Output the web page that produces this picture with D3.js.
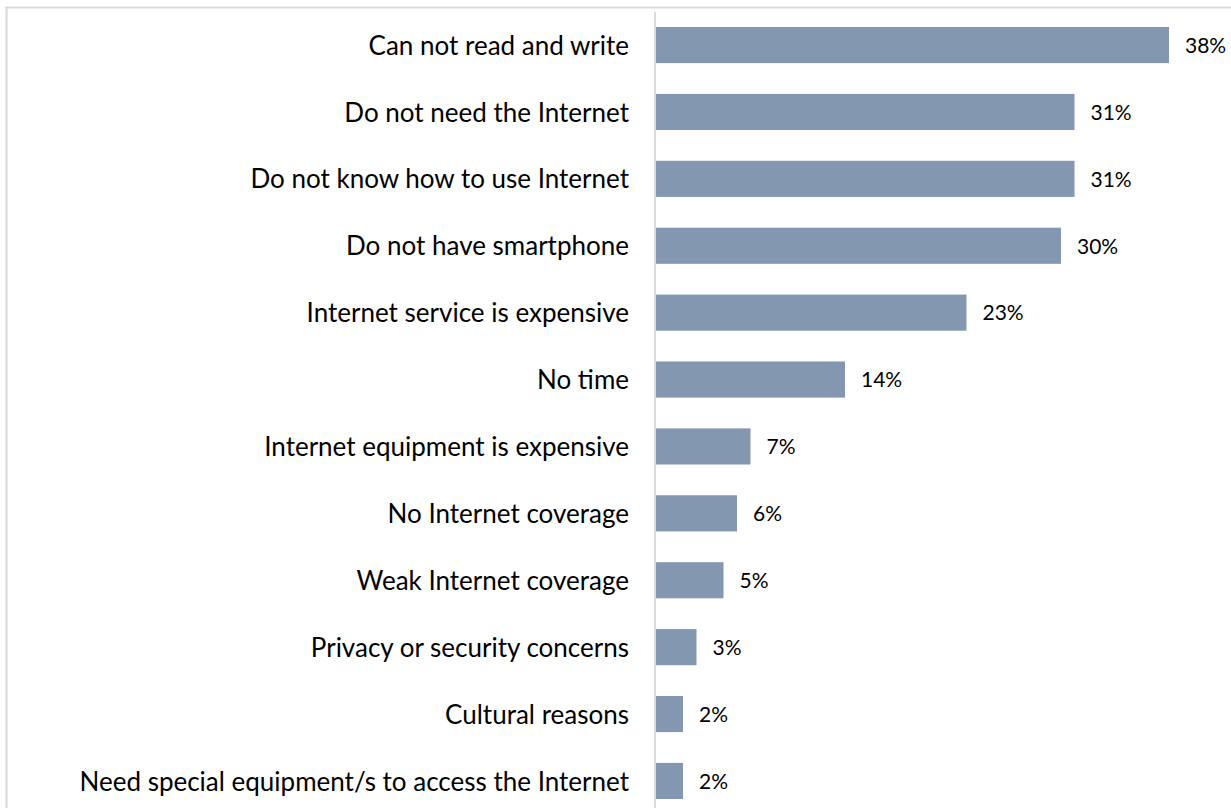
<!DOCTYPE html>
<html>
<head>
<meta charset="utf-8">
<script src="https://cdn.jsdelivr.net/npm/d3@7"></script>
<style>
  html, body { margin: 0; padding: 0; background: #fff; overflow: hidden; }
  svg { display: block; }
</style>
</head>
<body>
<script>
// Reasons for not using the Internet (share of respondents, %)
const categories = [
  "Can not read and write",
  "Do not need the Internet",
  "Do not know how to use Internet",
  "Do not have smartphone",
  "Internet service is expensive",
  "No time",
  "Internet equipment is expensive",
  "No Internet coverage",
  "Weak Internet coverage",
  "Privacy or security concerns",
  "Cultural reasons",
  "Need special equipment/s to access the Internet"
];
const values = [38, 31, 31, 30, 23, 14, 7, 6, 5, 3, 2, 2];

const W = 1231, H = 808;
const FONT = "Lato, 'Open Sans', sans-serif";
const svg = d3.select("body").append("svg").attr("width", W).attr("height", H);

// chart frame (only the top and left edges fall inside the view)
svg.append("rect")
  .attr("x", 6.5).attr("y", 7.5)
  .attr("width", W + 20).attr("height", H + 20)
  .attr("fill", "none").attr("stroke", "#d9d9d9").attr("stroke-width", 2);

const x = d3.scaleLinear().domain([0, 40]).range([656, 656 + 540]);
const y = d3.scaleBand().domain(categories).range([11.6, 814.4]).paddingInner(0.46).paddingOuter(0.23);

// bars
svg.selectAll("rect.bar").data(values).join("rect")
  .attr("class", "bar")
  .attr("x", x(0))
  .attr("y", (d, i) => y(categories[i]))
  .attr("width", d => x(d) - x(0))
  .attr("height", y.bandwidth())
  .attr("fill", "#8497b0");

// category axis
const axis = svg.append("g").attr("transform", `translate(${x(0) - 1},0)`)
  .call(d3.axisLeft(y).tickSize(0).tickPadding(26));
axis.select(".domain").attr("stroke", "#d9d9d9").attr("stroke-width", 2)
  .attr("d", `M0,12V${H}`);
axis.selectAll("text")
  .attr("font-family", FONT)
  .attr("font-size", 26)
  .attr("dy", "0.37em")
  .attr("fill", "#000");

// value labels
svg.selectAll("text.val").data(values).join("text")
  .attr("class", "val")
  .attr("x", d => x(d) + 16)
  .attr("y", (d, i) => y(categories[i]) + y.bandwidth() / 2)
  .attr("dy", "0.37em")
  .attr("font-family", FONT)
  .attr("font-size", 21)
  .attr("fill", "#000")
  .text(d => d + "%");
</script>
</body>
</html>
